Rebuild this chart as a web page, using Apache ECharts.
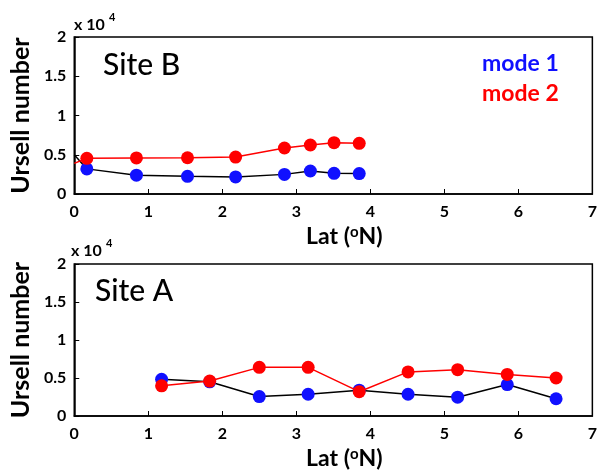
<!DOCTYPE html>
<html><head><meta charset="utf-8">
<script src="https://cdn.jsdelivr.net/npm/echarts@6/dist/echarts.min.js"></script>
<style>html,body{margin:0;padding:0;background:#fff}#c{width:600px;height:471px}</style>
</head><body><div id="c"></div>
<script>
// Values in units of 10^4
const xTicks = [0,1,2,3,4,5,6,7];
const yTicks = [0,0.5,1,1.5,2];
// Site B (top panel)
const siteB_lat   = [0.0, 0.17, 0.84, 1.53, 2.18, 2.84, 3.19, 3.51, 3.85];
const siteB_mode1 = [0.50, 0.32, 0.24, 0.225, 0.217, 0.25, 0.293, 0.263, 0.26];
const siteB_mode2 = [0.39, 0.455, 0.46, 0.462, 0.47, 0.586, 0.624, 0.654, 0.645];
// Site A (bottom panel)
const siteA_lat   = [1.18, 1.83, 2.50, 3.16, 3.85, 4.51, 5.18, 5.85, 6.51];
const siteA_mode1 = [0.483, 0.45, 0.256, 0.286, 0.34, 0.286, 0.248, 0.414, 0.227];
const siteA_mode2 = [0.397, 0.46, 0.64, 0.64, 0.32, 0.58, 0.61, 0.547, 0.50];

const FONT = 'Lato';
function pts(xs, ys, hideFirst){
  return xs.map((x,i)=> (hideFirst && i===0) ? {value:[x,ys[i]], symbol:'none'} : [x, ys[i]]);
}
function xAxis(gi){
  return {gridIndex:gi, type:'value', min:0, max:7, interval:1,
    axisLine:{onZero:false, lineStyle:{color:'#000', width:1.5}},
    axisTick:{inside:true, length:5, lineStyle:{color:'#000', width:1}},
    axisLabel:{color:'#000', fontFamily:FONT, fontWeight:'bold', fontSize:16, margin:10},
    splitLine:{show:false},
    name:'{a|Lat (}{s|o}{a|N)}', nameLocation:'middle', nameGap:31,
    nameTextStyle:{padding:[0,0,0,22], rich:{
      a:{fontFamily:FONT, fontWeight:'bold', fontSize:23, color:'#000'},
      s:{fontFamily:FONT, fontWeight:'bold', fontSize:15, color:'#000', verticalAlign:'top', padding:[0,0,6,0]}
    }}
  };
}
function yAxis(gi){
  return {gridIndex:gi, type:'value', min:0, max:2, interval:0.5,
    axisLine:{show:true, lineStyle:{color:'#000', width:1.5}},
    axisTick:{inside:true, length:5, lineStyle:{color:'#000', width:1}},
    axisLabel:{color:'#000', fontFamily:FONT, fontWeight:'bold', fontSize:16, margin:8,
      formatter:v=>String(v)},
    splitLine:{show:false},
    name:'Ursell number', nameLocation:'middle', nameGap:40, nameRotate:90,
    nameTextStyle:{fontFamily:FONT, fontWeight:'bold', fontSize:25, color:'#000'}
  };
}
function series(gi, xs, ys, lineColor, markColor, hideFirst, z){
  return {type:'line', xAxisIndex:gi, yAxisIndex:gi, data:pts(xs, ys, hideFirst),
    symbol:'circle', symbolSize:13, showSymbol:true, z:z,
    lineStyle:{color:lineColor, width:1.5},
    itemStyle:{color:markColor, borderWidth:0},
    emphasis:{disabled:true}, animation:false};
}
const chart = echarts.init(document.getElementById('c'), null, {renderer:'canvas'});
chart.setOption({
  animation:false,
  grid:[
    {left:74, top:37, right:4, height:157, show:true, borderColor:'#000', borderWidth:1.5, backgroundColor:'transparent'},
    {left:71, top:264, right:7, height:156, show:true, borderColor:'#000', borderWidth:1.5, backgroundColor:'transparent'}
  ],
  xAxis:[xAxis(0), xAxis(1)],
  yAxis:[yAxis(0), yAxis(1)],
  series:[
    series(0, siteB_lat, siteB_mode1, '#000', '#1010ff', true, 2),
    series(0, siteB_lat, siteB_mode2, '#ff0000', '#ff0000', true, 3),
    series(1, siteA_lat, siteA_mode1, '#000', '#1010ff', false, 2),
    series(1, siteA_lat, siteA_mode2, '#ff0000', '#ff0000', false, 3)
  ],
  graphic:[
    {type:'text', left:103, top:50, style:{text:'Site B', font:'500 30px Lato', fill:'#000'}},
    {type:'text', left:95, top:276, style:{text:'Site A', font:'500 30px Lato', fill:'#000'}},
    {type:'text', left:482, top:52, style:{text:'mode 1', font:'bold 23px Lato', fill:'#1010ff'}},
    {type:'text', left:482, top:82, style:{text:'mode 2', font:'bold 23px Lato', fill:'#ff0000'}},
    {type:'text', left:74, top:17, style:{text:'x 10', font:'bold 16px Lato', fill:'#000'}},
    {type:'text', left:109, top:12, style:{text:'4', font:'bold 11px Lato', fill:'#000'}},
    {type:'text', left:71, top:243, style:{text:'x 10', font:'bold 16px Lato', fill:'#000'}},
    {type:'text', left:106, top:238, style:{text:'4', font:'bold 11px Lato', fill:'#000'}}
  ]
});
</script></body></html>
